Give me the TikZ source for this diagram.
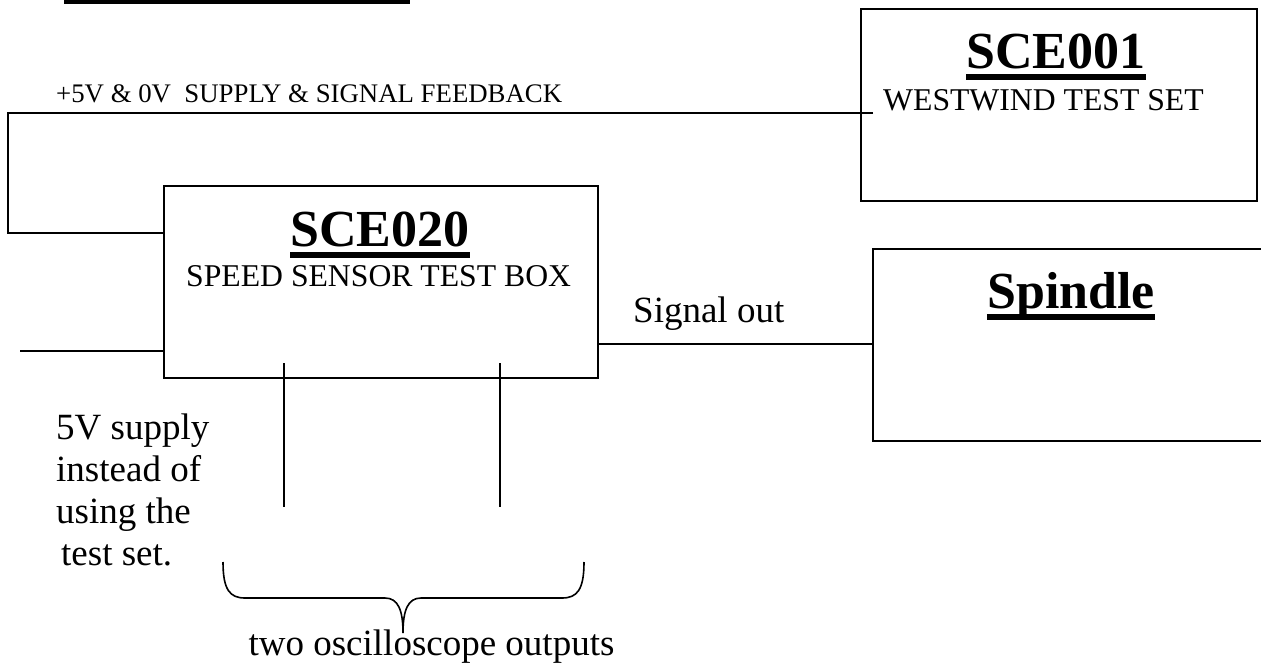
\documentclass[tikz,border=0pt]{standalone}
\usepackage{fontspec}
\setmainfont{Liberation Serif}
\begin{document}
\begin{tikzpicture}[x=1pt,y=-1pt,
  box/.style={draw, line width=1.8pt, rectangle, inner sep=0pt, anchor=north west},
  conn/.style={line width=1.8pt},
  ttl/.style={inner sep=0pt, anchor=base, font=\fontsize{52}{60}\selectfont\bfseries},
  sub/.style={inner sep=0pt, anchor=base west, font=\fontsize{31.7}{38}\selectfont},
  big/.style={inner sep=0pt, anchor=base west, font=\fontsize{37}{42}\selectfont},
  small/.style={inner sep=0pt, anchor=base west, font=\fontsize{26.8}{32}\selectfont},
  uln/.style={line width=6pt}]
\useasboundingbox (0,0) rectangle (1261,664);
\fill[white] (0,0) rectangle (1261,664);
\clip (0,0) rectangle (1261,664);

% cut-off bar at top
\fill (64,0) rectangle (410,4);

% boxes
\node[box, minimum width=434pt, minimum height=192pt] (b020) at (163,185) {};
\node[box, minimum width=396pt, minimum height=192pt] (b001) at (860,8) {};
\node[box, minimum width=430pt, minimum height=192pt] (bsp) at (872,248) {};

% titles
\node[ttl] (t001) at (1056,68) {SCE001};
\node[ttl] (t020) at (380,246) {SCE020};
\node[ttl] (tsp) at (1071,308) {Spindle};
\foreach \t in {t001,t020,tsp}
  \draw[uln] ([yshift=-8.5pt]\t.base west) -- ([yshift=-8.5pt]\t.base east);

\node[sub] (s001) at (883,110) {WESTWIND TEST SET};
\node[sub] (s020) at (186,286) {SPEED SENSOR TEST BOX};

% labels
\node[small] (fbl) at (56,102) {+5V \& 0V\ \ SUPPLY \& SIGNAL FEEDBACK};
\node[big] (sig) at (633,322) {Signal out};
\node[big] (l1) at (56,439) {5V supply};
\node[big] (l2) at (56,481) {instead of};
\node[big] (l3) at (56,523) {using the};
\node[big] (l4) at (61,565) {test set.};
\node[big, anchor=base] (osc) at (431.5,655) {two oscilloscope outputs};

% connector coordinates
\coordinate (fb) at (873,113);
\coordinate (lft) at (8,170);
\coordinate (in1) at (163,233);
\coordinate (sup) at (20,351);
\coordinate (so) at (597,344);
\coordinate (o1t) at (284,363);
\coordinate (o1b) at (284,507);
\coordinate (o2t) at (500,363);
\coordinate (o2b) at (500,507);

% connectors
\draw[conn] (fb) -| (lft) |- (in1);
\draw[conn] (sup) -- (sup -| b020.west);
\draw[conn] (so) -- (so -| bsp.west);
\draw[conn] (o1t) -- (o1b);
\draw[conn] (o2t) -- (o2b);

% brace
\draw[line width=1.6pt] (223,562) .. controls (223,590) and (230,598) .. (245,598)
  -- (385,598) .. controls (398,598) and (403,610) .. (403,633)
  .. controls (403,610) and (408,598) .. (421,598)
  -- (562,598) .. controls (577,598) and (584,590) .. (584,562);
\end{tikzpicture}
\end{document}
